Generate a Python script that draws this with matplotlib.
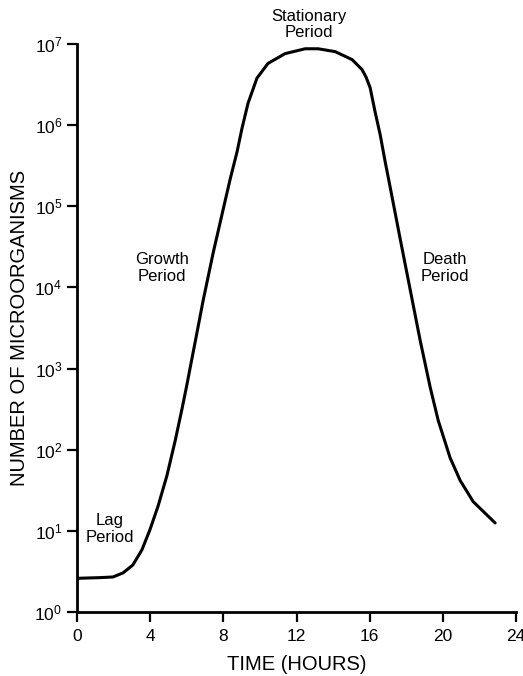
import matplotlib
matplotlib.use('Agg')
import matplotlib.pyplot as plt

plt.rcParams.update({
    'font.family': 'Liberation Sans',
    'mathtext.fontset': 'custom',
    'mathtext.rm': 'Liberation Sans',
    'mathtext.it': 'Liberation Sans',
})

# growth curve (hours, count)
hours = [0.0, 1.26, 1.97, 2.52, 3.06, 3.55, 3.99, 4.43, 4.92, 5.36, 5.74, 6.01,
         6.18, 6.55, 6.89, 7.44, 7.98, 8.37, 8.75, 9.02, 9.35, 9.84, 10.44, 11.37,
         12.47, 13.18, 14.11, 15.04, 15.58, 15.8, 16.02, 16.29, 16.57, 16.84, 17.11,
         17.66, 18.21, 18.75, 19.30, 19.74, 20.39, 20.94, 21.65, 22.85]
counts = [2.6, 2.65, 2.7, 3.03, 3.8, 5.81, 10.3, 20, 48, 126, 316, 631,
          1000, 2690, 6760, 26300, 89100, 2.14e5, 4.68e5, 9.12e5, 1.86e6, 3.8e6, 5.75e6, 7.59e6,
          8.72e6, 8.72e6, 8.04e6, 6.4e6, 4.82e6, 3.89e6, 2.89e6, 1.46e6, 7.6e5, 3.55e5, 1.74e5,
          3.98e4, 9330, 2240, 589, 229, 79.4, 41.7, 22.9, 12.5]

x_ticks = [0, 4, 8, 12, 16, 20, 24]
y_ticks = [1e0, 1e1, 1e2, 1e3, 1e4, 1e5, 1e6, 1e7]
y_labels = ['$10^{%d}$' % i for i in range(8)]

# phase labels: (text, hour, count)
phases = [('Lag\nPeriod', 1.8, 10.5),
          ('Growth\nPeriod', 4.65, 1.74e4),
          ('Stationary\nPeriod', 12.7, 1.74e7),
          ('Death\nPeriod', 20.12, 1.74e4)]

fig = plt.figure(figsize=(5.23, 6.76), dpi=100)
ax = fig.add_axes([0.147, 0.0947, 0.84, 0.8403])

ax.plot(hours, counts, color='black', lw=2.2, solid_capstyle='round',
        solid_joinstyle='round')
ax.set_yscale('log')
ax.set_xlim(0, 24)
ax.set_ylim(1, 1e7)
ax.set_xticks(x_ticks)
ax.set_yticks(y_ticks)
ax.set_yticklabels(y_labels)
ax.minorticks_off()
ax.tick_params(length=7, width=1.6, labelsize=12.5, direction='out')
ax.tick_params(axis='x', pad=5)

for s in ['top', 'right']:
    ax.spines[s].set_visible(False)
for s in ['left', 'bottom']:
    ax.spines[s].set_linewidth(2)

for txt, hx, cy in phases:
    ax.text(hx, cy, txt, ha='center', va='center', fontsize=12,
            linespacing=1.15, clip_on=False)

ax.set_xlabel('TIME (HOURS)', fontsize=14.5, labelpad=8)
ax.set_ylabel('NUMBER OF MICROORGANISMS', fontsize=14.5, labelpad=4)

plt.savefig('out.png', dpi=100)
